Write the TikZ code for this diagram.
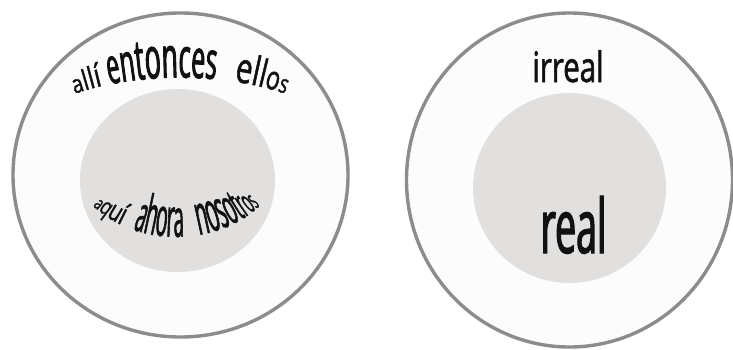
\documentclass[tikz,border=0pt]{standalone}
\usepackage{fontspec}
\usepackage{xcolor}
\usepackage{tikz}
\usetikzlibrary{positioning,shapes.geometric,decorations.text}
\newfontfamily\condA[FakeStretch=0.8,FakeBold=1.2]{Open Sans}
\newfontfamily\condB[FakeStretch=0.5,FakeBold=1.6]{Open Sans}
\newfontfamily\condC[FakeStretch=0.36,FakeBold=1.1]{Open Sans}
\newfontfamily\condD[FakeStretch=0.7,FakeBold=1.3]{Open Sans}
\newfontfamily\condE[FakeStretch=0.46,FakeBold=1.6]{Open Sans}
\newcommand\fsz[2]{#1\fontsize{#2}{#2}\selectfont}
\definecolor{ringGrey}{HTML}{8C8C8C}
\definecolor{ringFill}{HTML}{FCFCFC}
\definecolor{coreGrey}{HTML}{E2E0DE}
\definecolor{inkBlack}{HTML}{111111}
\tikzset{
  ring/.style={ellipse, draw=ringGrey, line width=3.4pt, fill=ringFill, inner sep=0pt},
  core/.style={ellipse, fill=coreGrey, inner sep=0pt},
  word/.style={inner sep=0pt, anchor=base, text=inkBlack},
  arcword/.style={decorate, decoration={text along path, text align=center, text color=inkBlack, text={#1}}},
}

\begin{document}
\begin{tikzpicture}[x=1pt,y=1pt]
  \useasboundingbox (0,0) rectangle (733,349);
  \node[ring, minimum width=335pt, minimum height=324pt] (outerL) at (180.5,174) {};
  \node[core, minimum width=195pt, minimum height=183pt] (coreL) at (177.5,168.5) {};
  \node[ring, minimum width=326pt, minimum height=334pt] (outerR) at (569.5,169) {};
  \node[core, minimum width=193pt, minimum height=190pt] (coreR) at (569.5,161) {};
  % curved words, left
  \path[arcword={|\fsz{\condA}{25}|a|\fsz{\condA}{28}|l|\fsz{\condA}{30}|l|\fsz{\condA}{32}|í |\fsz{\condE}{50}|e|\fsz{\condE}{53}|n|\fsz{\condE}{56}|t|\fsz{\condE}{58}|on|\fsz{\condE}{56}|c|\fsz{\condE}{54}|e|\fsz{\condE}{52}|s|\fsz{\condA}{88}| |\fsz{\condD}{42}|e|\fsz{\condD}{40}|l|\fsz{\condD}{38}|l|\fsz{\condD}{33}|o|\fsz{\condD}{26}|s}]
    (60,249) .. controls (125,279) and (235,279) .. (300,249);
  \path[arcword={|\fsz{\condD}{18}|a|\fsz{\condD}{24}|q|\fsz{\condD}{28}|u|\fsz{\condD}{30}|í|\fsz{\condA}{60}| |\fsz{\condC}{50}|a|\fsz{\condC}{54}|hor|\fsz{\condC}{52}|a|\fsz{\condA}{72}| |\fsz{\condC}{56}|no|\fsz{\condC}{54}|s|\fsz{\condC}{50}|o|\fsz{\condC}{46}|t|\fsz{\condC}{40}|r|\fsz{\condC}{34}|o|\fsz{\condC}{28}|s}]
    (78,161) .. controls (120,96) and (232,96) .. (275,161);
  % right
  \node[word, font=\fsz{\condD}{42}] (irreal) at (568,267) {irreal};
  \node[word, font=\fsz{\condB}{75}] (real) at (573.5,96) {real};
\end{tikzpicture}
\end{document}
